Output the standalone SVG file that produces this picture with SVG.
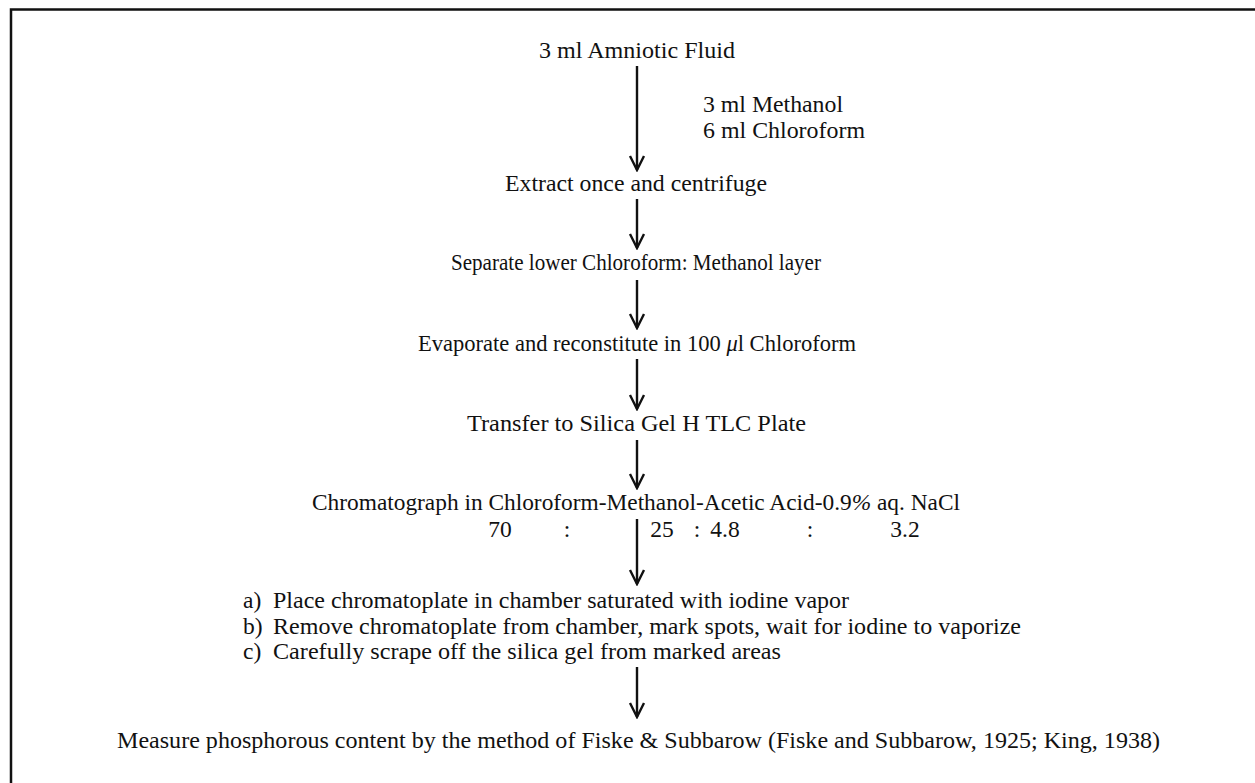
<svg xmlns="http://www.w3.org/2000/svg" width="1255" height="783" viewBox="0 0 1255 783">
<style>
text{font-family:"Liberation Serif","Times New Roman",serif;font-size:23.5px;fill:#111}
.c{text-anchor:middle}
.frame{stroke:#111;stroke-width:2.5;fill:none}
.conn line{stroke:#111;stroke-width:2.4;marker-end:url(#ah)}
</style>
<defs>
<marker id="ah" viewBox="-16 -10 18 20" refX="0" refY="0" markerWidth="18" markerHeight="20" markerUnits="userSpaceOnUse" orient="auto">
<path d="M-14,-7 L0,0 L-14,7" fill="none" stroke="#111" stroke-width="2.4"/>
</marker>
</defs>
<rect width="1255" height="783" fill="#fff"/>
<path class="frame" d="M11,783 V9.5 H1255"/>
<g id="n1"><text x="539" y="58" textLength="196" lengthAdjust="spacingAndGlyphs">3 ml Amniotic Fluid</text></g>
<g id="n1b"><text x="703" y="112" textLength="140" lengthAdjust="spacingAndGlyphs">3 ml Methanol</text><text x="703" y="138" textLength="162" lengthAdjust="spacingAndGlyphs">6 ml Chloroform</text></g>
<g id="n2"><text x="505" y="191" textLength="262" lengthAdjust="spacingAndGlyphs">Extract once and centrifuge</text></g>
<g id="n3"><text x="451" y="270" textLength="370" lengthAdjust="spacingAndGlyphs">Separate lower Chloroform: Methanol layer</text></g>
<g id="n4"><text x="418" y="351" textLength="438" lengthAdjust="spacingAndGlyphs">Evaporate and reconstitute in 100 <tspan font-style="italic">μ</tspan>l Chloroform</text></g>
<g id="n5"><text x="467" y="431" textLength="339" lengthAdjust="spacingAndGlyphs">Transfer to Silica Gel H TLC Plate</text></g>
<g id="n6"><text x="312" y="510" textLength="648" lengthAdjust="spacingAndGlyphs">Chromatograph in Chloroform-Methanol-Acetic Acid-0.9<tspan font-style="italic">%</tspan> aq. NaCl</text>
<text class="c" x="500" y="537">70</text><text class="c" x="567" y="537">:</text><text class="c" x="662" y="537">25</text><text class="c" x="697" y="537">:</text><text class="c" x="725" y="537">4.8</text><text class="c" x="810" y="537">:</text><text class="c" x="905" y="537">3.2</text></g>
<g id="n7"><text x="243" y="608">a)</text><text x="273" y="608" textLength="576" lengthAdjust="spacingAndGlyphs">Place chromatoplate in chamber saturated with iodine vapor</text>
<text x="243" y="634">b)</text><text x="273" y="634" textLength="748" lengthAdjust="spacingAndGlyphs">Remove chromatoplate from chamber, mark spots, wait for iodine to vaporize</text>
<text x="243" y="659">c)</text><text x="273" y="659" textLength="508" lengthAdjust="spacingAndGlyphs">Carefully scrape off the silica gel from marked areas</text></g>
<g id="n8"><text x="117" y="748" textLength="1043" lengthAdjust="spacingAndGlyphs">Measure phosphorous content by the method of Fiske &amp; Subbarow (Fiske and Subbarow, 1925; King, 1938)</text></g>
<g id="connectors" class="conn">
<line x1="637" y1="66" x2="637" y2="170"/>
<line x1="637" y1="199" x2="637" y2="248"/>
<line x1="637" y1="280" x2="637" y2="328"/>
<line x1="637" y1="359" x2="637" y2="409"/>
<line x1="637" y1="440" x2="637" y2="488"/>
<line x1="637" y1="519" x2="637" y2="584"/>
<line x1="637" y1="667" x2="637" y2="717"/>
</g>
</svg>
